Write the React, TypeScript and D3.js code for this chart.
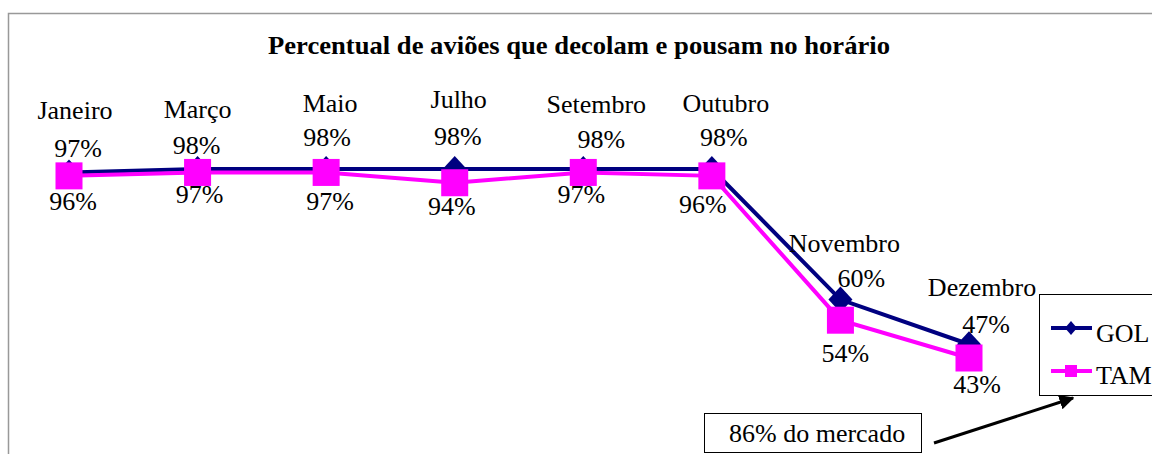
import React from 'react';
import * as d3 from 'd3';

// months and percent on time
const months = ['Janeiro', 'Março', 'Maio', 'Julho', 'Setembro', 'Outubro', 'Novembro', 'Dezembro'];
const gol = [97, 98, 98, 98, 98, 98, 60, 47];
const tam = [96, 97, 97, 94, 97, 96, 54, 43];

// hand placed label nudges (dx, dy) relative to each point, as in the original
const monthNudge = [[6, -53], [0, -51], [4, -57], [4, -61], [13, -56], [14, -57], [4, -48], [13, -48]];
const golNudge = [[9, -15], [-1, -15], [1, -23], [3, -24], [18, -21], [12, -23], [21, -13], [17, -11]];
const tamNudge = [[4, 34], [2, 31], [4, 38], [-3, 32], [-2, 31], [-9, 37], [5, 42], [8, 35]];

const W = 1152;
const H = 454;
const serif = { fontFamily: 'Liberation Serif' };

const App = () => {
  const x = d3.scalePoint<string>().domain(months).range([69, 969]);
  const y = d3.scaleLinear().domain([43, 98]).range([358, 169]);

  const line = d3.line<number>()
    .x((_, i) => x(months[i]) as number)
    .y(d => y(d));

  const diamond = (cx: number, cy: number, w: number, h: number) =>
    `M${cx},${cy - h} L${cx + w},${cy} L${cx},${cy + h} L${cx - w},${cy} Z`;

  const label = (txt: string, px: number, py: number, key: string) => (
    <text key={key} x={px} y={py} textAnchor="middle" fontSize={26} style={serif} fill="#000">{txt}</text>
  );

  return (
    <svg width={W} height={H} style={{ position: 'absolute', left: 0, top: 0, background: '#fff' }}>
      <defs>
        <marker id="arrow" viewBox="0 0 10 10" refX="9" refY="5" markerWidth="5" markerHeight="5" orient="auto">
          <path d="M0,0 L10,5 L0,10 Z" fill="#000" />
        </marker>
      </defs>

      <rect x={8.5} y={13.5} width={1300} height={600} fill="#fff" stroke="#999" strokeWidth={1.5} />

      <text x={579} y={54} textAnchor="middle" fontSize={26} fontWeight="bold" style={serif}
        textLength={622} lengthAdjust="spacingAndGlyphs">
        Percentual de aviões que decolam e pousam no horário
      </text>

      {/* GOL */}
      <path d={line(gol) ?? ''} fill="none" stroke="#000080" strokeWidth={4} />
      {gol.map((v, i) => (
        <path key={'gm' + i} d={diamond(x(months[i]) as number, y(v), 12, 13)} fill="#000080" />
      ))}

      {/* TAM */}
      <path d={line(tam) ?? ''} fill="none" stroke="#ff00ff" strokeWidth={4} />
      {tam.map((v, i) => (
        <rect key={'tm' + i} x={(x(months[i]) as number) - 13.5} y={y(v) - 13.5} width={27} height={27} fill="#ff00ff" />
      ))}

      {months.map((m, i) => label(m, (x(m) as number) + monthNudge[i][0], y(gol[i]) + monthNudge[i][1], 'ml' + i))}
      {gol.map((v, i) => label(`${v}%`, (x(months[i]) as number) + golNudge[i][0], y(v) + golNudge[i][1], 'gl' + i))}
      {tam.map((v, i) => label(`${v}%`, (x(months[i]) as number) + tamNudge[i][0], y(v) + tamNudge[i][1], 'tl' + i))}

      {/* legend */}
      <rect x={1039.5} y={294.5} width={200} height={101} fill="#fff" stroke="#000" strokeWidth={1} />
      <line x1={1051} x2={1092} y1={328} y2={328} stroke="#000080" strokeWidth={4} />
      <path d={diamond(1071, 328, 6, 7)} fill="#000080" />
      <text x={1096} y={342} fontSize={26} style={serif}>GOL</text>
      <line x1={1051} x2={1092} y1={371} y2={371} stroke="#ff00ff" strokeWidth={4} />
      <rect x={1065} y={365} width={12} height={12} fill="#ff00ff" />
      <text x={1096} y={384} fontSize={26} style={serif}>TAM</text>

      {/* annotation */}
      <rect x={704.5} y={413.5} width={217} height={39} fill="#fff" stroke="#000" strokeWidth={1} />
      <text x={729} y={442} fontSize={26} style={serif}>86% do mercado</text>
      <line x1={934} y1={443} x2={1073} y2={398} stroke="#000" strokeWidth={3} markerEnd="url(#arrow)" />
    </svg>
  );
};

export default App;
